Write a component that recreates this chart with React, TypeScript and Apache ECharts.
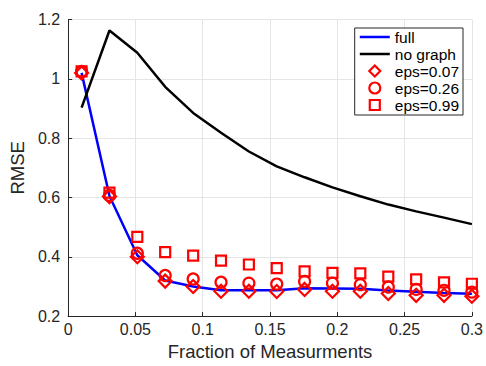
import React, { useEffect, useRef } from "react";
import * as echarts from "echarts";

const fractions = [0.01, 0.0307, 0.0514, 0.0721, 0.0929, 0.1136, 0.1343, 0.155, 0.1757, 0.1964, 0.2171, 0.2379, 0.2586, 0.2793, 0.3];
const fullVals = [1.02, 0.605, 0.405, 0.32, 0.3, 0.287, 0.287, 0.287, 0.294, 0.293, 0.292, 0.286, 0.282, 0.278, 0.275];
const noGraphVals = [0.903, 1.163, 1.088, 0.973, 0.885, 0.818, 0.755, 0.705, 0.668, 0.634, 0.604, 0.576, 0.553, 0.532, 0.51];
const eps007 = [1.02, 0.603, 0.4, 0.318, 0.3, 0.284, 0.284, 0.283, 0.29, 0.284, 0.284, 0.276, 0.27, 0.27, 0.267];
const eps026 = [1.025, 0.607, 0.412, 0.337, 0.325, 0.314, 0.311, 0.308, 0.317, 0.311, 0.306, 0.298, 0.29, 0.287, 0.281];
const eps099 = [1.025, 0.616, 0.467, 0.416, 0.404, 0.387, 0.374, 0.362, 0.351, 0.346, 0.344, 0.333, 0.324, 0.314, 0.309];
const seriesNames = ["full", "no graph", "eps=0.07", "eps=0.26", "eps=0.99"];
const markerSymbols = ["diamond", "circle", "rect"];

const FONT = "'Liberation Sans', Arial, Helvetica, sans-serif";
const DARK = "#262626";
const RED = "#ff0000";
// legend icons: the leading moves fix the icon's bounding box to 30x12
const BOX = "path://M0,0M30,12";
const LINE_ICON = BOX + "M0,4.75H30V7.25H0Z";
const DIAMOND_ICON = BOX + "M15,0.5L20.5,6L15,11.5L9.5,6Z";
const CIRCLE_ICON = BOX + "M20.5,6A5.5,5.5 0 1 1 9.5,6A5.5,5.5 0 1 1 20.5,6Z";
const SQUARE_ICON = BOX + "M10,1H20V11H10Z";

function pairs(vals: number[]) {
  return fractions.map((x, i) => [x, vals[i]]);
}

function fmt(v: number) {
  return String(parseFloat(v.toFixed(2)));
}

export default function App() {
  const ref = useRef<HTMLDivElement>(null);
  useEffect(() => {
    const chart = echarts.init(ref.current!, null, { renderer: "svg" });
    const hollowStyle = { color: "rgba(255,255,255,0)", borderColor: RED, borderWidth: 2.2, opacity: 1 };
    const hollow = (symbol: string, size: number) => ({
      type: "scatter" as const,
      symbol,
      symbolSize: size,
      itemStyle: hollowStyle,
      z: 5,
    });
    chart.setOption({
      animation: false,
      backgroundColor: "#ffffff",
      textStyle: { fontFamily: FONT },
      grid: { left: 63, right: 13, top: 19.5, bottom: 40.5, containLabel: false },
      legend: {
        orient: "vertical",
        right: 23,
        top: 28,
        data: [
          { name: seriesNames[0], icon: LINE_ICON, itemStyle: { color: "#0000ff", borderWidth: 0, opacity: 1 } },
          { name: seriesNames[1], icon: LINE_ICON, itemStyle: { color: "#000000", borderWidth: 0, opacity: 1 } },
          { name: seriesNames[2], icon: DIAMOND_ICON, itemStyle: hollowStyle },
          { name: seriesNames[3], icon: CIRCLE_ICON, itemStyle: hollowStyle },
          { name: seriesNames[4], icon: SQUARE_ICON, itemStyle: hollowStyle },
        ],
        itemWidth: 30,
        itemHeight: 12,
        itemGap: 1,
        padding: [1, 4, 2, 4],
        borderColor: DARK,
        borderWidth: 1,
        backgroundColor: "#ffffff",
        textStyle: { fontSize: 15.5, color: "#000", fontFamily: FONT },
        selectedMode: false,
      },
      xAxis: {
        type: "value",
        min: 0,
        max: 0.3,
        interval: 0.05,
        name: "Fraction of Measurments",
        nameLocation: "middle",
        nameGap: 24,
        nameTextStyle: { fontSize: 18.5, color: DARK, fontFamily: FONT },
        axisLine: { show: true, lineStyle: { color: DARK, width: 1 } },
        axisTick: { show: true, inside: true, length: 4, lineStyle: { color: DARK } },
        axisLabel: { fontSize: 16, color: DARK, margin: 5, formatter: fmt, fontFamily: FONT },
        splitLine: { show: true, lineStyle: { color: "#e5e5e5", width: 1 } },
      },
      yAxis: {
        type: "value",
        min: 0.2,
        max: 1.2,
        interval: 0.2,
        name: "RMSE",
        nameLocation: "middle",
        nameGap: 34,
        nameTextStyle: { fontSize: 18.5, color: DARK, fontFamily: FONT },
        axisLine: { show: true, lineStyle: { color: DARK, width: 1 } },
        axisTick: { show: true, inside: true, length: 4, lineStyle: { color: DARK } },
        axisLabel: { fontSize: 16, color: DARK, margin: 8, formatter: fmt, fontFamily: FONT },
        splitLine: { show: true, lineStyle: { color: "#e5e5e5", width: 1 } },
      },
      series: [
        {
          name: seriesNames[0],
          type: "line",
          data: pairs(fullVals),
          symbol: "none",
          lineStyle: { color: "#0000ff", width: 2.5 },
          itemStyle: { color: "#0000ff" },
          z: 3,
        },
        {
          name: seriesNames[1],
          type: "line",
          data: pairs(noGraphVals),
          symbol: "none",
          lineStyle: { color: "#000000", width: 2.5 },
          itemStyle: { color: "#000000" },
          z: 3,
        },
        { name: seriesNames[2], data: pairs(eps007), ...hollow(markerSymbols[0], 13) },
        { name: seriesNames[3], data: pairs(eps026), ...hollow(markerSymbols[1], 11) },
        { name: seriesNames[4], data: pairs(eps099), ...hollow(markerSymbols[2], 10) },
      ],
    });
    return () => chart.dispose();
  }, []);
  return (
    <div
      ref={ref}
      style={{ position: "fixed", left: 0, top: 0, width: 486, height: 366, background: "#fff" }}
    />
  );
}
